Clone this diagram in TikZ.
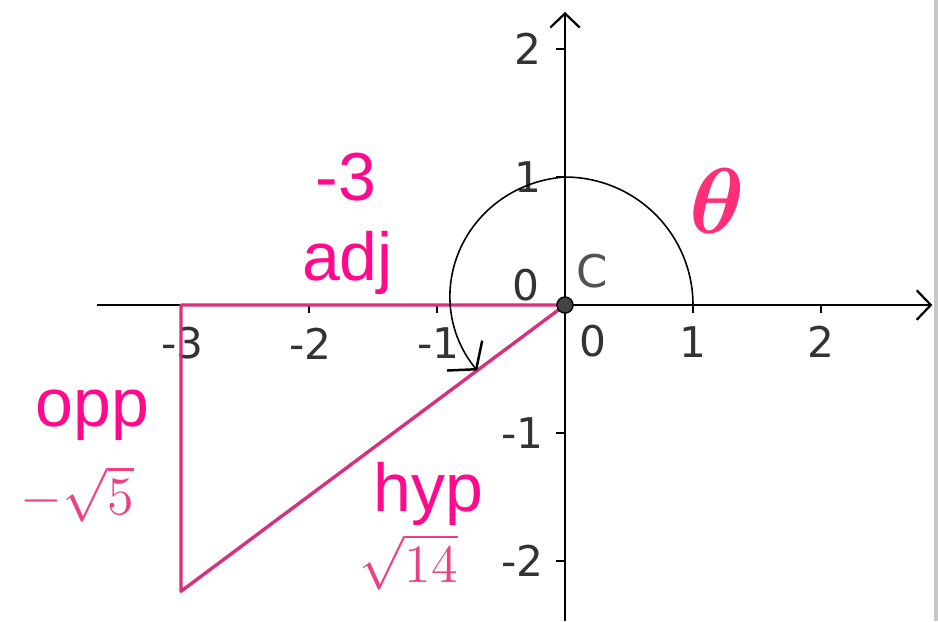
\documentclass[tikz,border=0pt]{standalone}
\usepackage{fontspec}
\setmainfont{Liberation Sans}
\newfontfamily\axisfont{DejaVu Sans}
\usepackage{tikz}
\usetikzlibrary{arrows.meta,positioning}
\definecolor{labelpink}{HTML}{FF0A8C}
\definecolor{mathpink}{HTML}{EE3F84}
\definecolor{thetapink}{HTML}{FF2E78}
\definecolor{sidepink}{HTML}{D8307A}
\definecolor{dotgray}{HTML}{444444}

\begin{document}
\begin{tikzpicture}[
  axis/.style={
    draw=black,
    line width=0.5pt,
    -{Straight Barb[length=1.1mm,width=2.3mm]}
  },
  tick/.style={draw=black, line width=0.4pt},
  side/.style={draw=sidepink, line width=0.75pt, line join=round},
  anglearc/.style={
    draw=black,
    line width=0.35pt,
    -{Straight Barb[length=1.4mm,width=3.6mm,line width=0.55pt]}
  },
  ticklabel/.style={
    font=\axisfont\fontsize{9.4}{10}\selectfont,
    text=black!80,
    inner sep=0pt
  },
  sidelabel/.style={
    font=\fontsize{15.1}{16}\selectfont,
    text=labelpink,
    inner sep=0pt
  },
  mathlabel/.style={
    font=\fontsize{13}{14}\selectfont,
    text=mathpink,
    inner sep=0pt
  }
]

\useasboundingbox (-4.414,-2.469) rectangle (2.914,2.383);

% right frame edge
\draw[black!22, line width=0.8pt] (2.898,2.383) -- (2.898,-2.469);

% axes
\coordinate (xstart) at (-3.656,0);
\coordinate (xend) at (2.87,0);
\coordinate (ystart) at (0,-2.469);
\coordinate (yend) at (0,2.29);
\draw[axis] (xstart) -- (xend);
\draw[axis] (ystart) -- (yend);

\draw[tick] (-3,0) -- (-3,-0.065) (-2,0) -- (-2,-0.065) (-1,0) -- (-1,-0.065)
            (1,0) -- (1,-0.065) (2,0) -- (2,-0.065);
\draw[tick] (0,2) -- (-0.07,2) (0,1) -- (-0.07,1)
            (0,-1) -- (-0.07,-1) (0,-2) -- (-0.07,-2);

\node[ticklabel] (xm3) at (-2.99,-0.30) {-3};
\node[ticklabel] (xm2) at (-1.99,-0.30) {-2};
\node[ticklabel] (xm1) at (-0.99,-0.30) {-1};
\node[ticklabel] (x0) at (0.22,-0.28) {0};
\node[ticklabel] (x1) at (1,-0.29) {1};
\node[ticklabel] (x2) at (2,-0.29) {2};
\node[ticklabel, anchor=east] (y2) at (-0.18,2) {2};
\node[ticklabel, anchor=east] (y1) at (-0.18,1) {1};
\node[ticklabel, anchor=east] (y0) at (-0.19,0.155) {0};
\node[ticklabel, anchor=east] (ym1) at (-0.16,-1) {-1};
\node[ticklabel, anchor=east] (ym2) at (-0.16,-2) {-2};

% triangle
\coordinate (C) at (0,0);
\coordinate (A) at (-3,0);
\coordinate (B) at (-3,-2.2361);
\draw[side] (C) -- (A) -- (B) -- cycle;

% angle
\draw[anglearc] plot[domain=0:216.7, samples=100, smooth]
  (\x:{min(1,1-0.145*(\x-90)/126.7)});

\fill[dotgray, draw=black, line width=0.3pt] (C) circle (0.063);
\node[ticklabel, text=black!68, font=\axisfont\fontsize{10}{11}\selectfont] (Clabel) at (0.21,0.265) {C};

% labels
\node[sidelabel, anchor=base] (adjval) at (-1.71,0.82) {-3};
\node[sidelabel, anchor=base] (adj) at (-1.70,0.195) {adj};
\node[sidelabel, anchor=base] (opp) at (-3.69,-0.95) {opp};
\node[mathlabel, anchor=base] (oppval) at (-3.81,-1.64) {$-\sqrt{5}$};
\node[sidelabel, anchor=base] (hyp) at (-1.07,-1.61) {hyp};
\node[mathlabel, anchor=base] (hypval) at (-1.22,-2.17) {$\sqrt{14}$};
\node[font=\boldmath\fontsize{19.5}{21}\selectfont, text=thetapink, inner sep=0pt] (theta) at (1.19,0.81) {$\theta$};

\end{tikzpicture}
\end{document}
